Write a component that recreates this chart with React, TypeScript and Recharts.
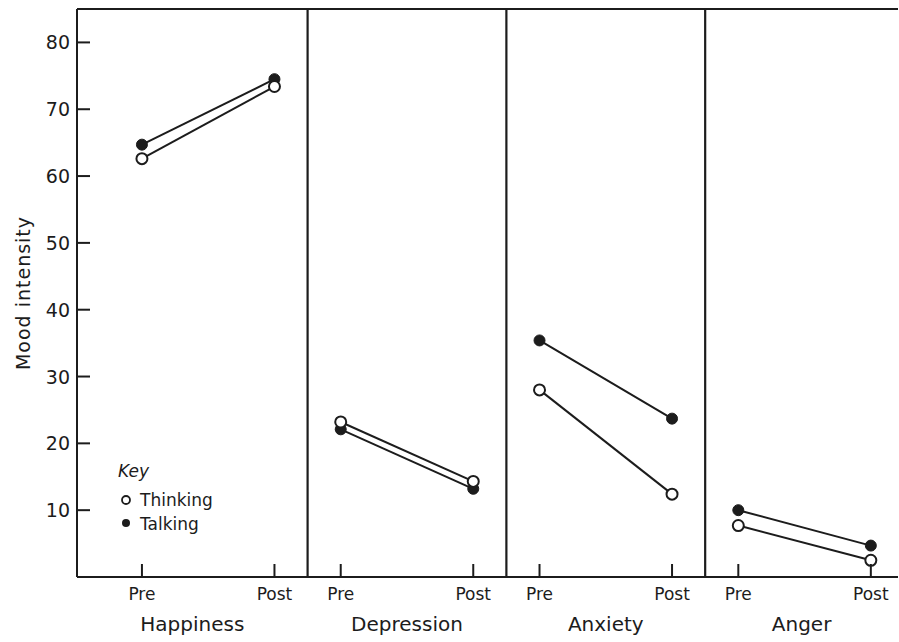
import React from "react";
import { LineChart, Line, XAxis, YAxis, ReferenceLine, Legend } from "recharts";

const panels = ["Happiness", "Depression", "Anxiety", "Anger"];
const phases = ["Pre", "Post"];
const thinkingPre = [62.6, 23.2, 28.0, 7.7];
const thinkingPost = [73.4, 14.3, 12.4, 2.5];
const talkingPre = [64.7, 22.1, 35.4, 10.0];
const talkingPost = [74.5, 13.2, 23.7, 4.7];
const yTicks = [10, 20, 30, 40, 50, 60, 70, 80];

const INK = "#1c1c1c";
const FONT = "'DejaVu Sans', sans-serif";
const X_MIN = -0.98;
const X_MAX = 11.41;
const TICK_LEN = 13;
const Y_GAP = 8;
const X_GAP = 10;

// each panel: Pre at slot 3i, Post at slot 3i+2 on a numeric x axis
const preX = (i: number) => 3 * i;
const postX = (i: number) => 3 * i + 2;
const dividers = panels.slice(1).map((_, i) => postX(i) + 0.5);
const bounds = [X_MIN, ...dividers, X_MAX];
const panelCenters = panels.map((_, i) => (bounds[i] + bounds[i + 1]) / 2);
const phaseTicks = panels.flatMap((_, i) => [preX(i), postX(i)]);

const series = panels.map((name, i) => ({
  name,
  thinking: [
    { x: preX(i), v: thinkingPre[i] },
    { x: postX(i), v: thinkingPost[i] },
  ],
  talking: [
    { x: preX(i), v: talkingPre[i] },
    { x: postX(i), v: talkingPost[i] },
  ],
}));

// tick marks point into the plot, labels sit outside
function YTick(props: any) {
  const { x, y, payload } = props;
  const axisX = x + Y_GAP;
  return (
    <g>
      <line x1={axisX} x2={axisX + TICK_LEN} y1={y} y2={y} stroke={INK} strokeWidth={2} />
      <text x={axisX - 7} y={y} textAnchor="end" dominantBaseline="central" fontSize={19} fill={INK} fontFamily={FONT}>
        {payload.value}
      </text>
    </g>
  );
}

function XTick(props: any) {
  const { x, y, payload } = props;
  const axisY = y - X_GAP;
  return (
    <g>
      <line x1={x} x2={x} y1={axisY} y2={axisY - TICK_LEN} stroke={INK} strokeWidth={2} />
      <text x={x} y={axisY + 23} textAnchor="middle" fontSize={17} fill={INK} fontFamily={FONT}>
        {payload.value % 3 === 0 ? phases[0] : phases[1]}
      </text>
    </g>
  );
}

function OpenDot(props: any) {
  const { cx, cy } = props;
  return <circle cx={cx} cy={cy} r={5.5} fill="#fff" stroke={INK} strokeWidth={2} />;
}

function FilledDot(props: any) {
  const { cx, cy } = props;
  return <circle cx={cx} cy={cy} r={5.5} fill={INK} stroke={INK} strokeWidth={1} />;
}

function KeyBox() {
  return (
    <svg width={120} height={90} style={{ fontFamily: FONT }}>
      <text x={8} y={27} fontSize={17} fontStyle="italic" fill={INK}>Key</text>
      <circle cx={16} cy={50} r={4} fill="#fff" stroke={INK} strokeWidth={1.8} />
      <text x={30} y={56} fontSize={17} fill={INK}>Thinking</text>
      <circle cx={16} cy={73} r={4} fill={INK} />
      <text x={30} y={80} fontSize={17} fill={INK}>Talking</text>
    </svg>
  );
}

export default function App() {
  return (
    <div style={{ position: "absolute", left: 0, top: 0, background: "#fff" }}>
      <LineChart width={899} height={642} margin={{ top: 9, right: 1, left: 0, bottom: 0 }}>
        <XAxis
          dataKey="x"
          type="number"
          domain={[X_MIN, X_MAX]}
          allowDataOverflow
          ticks={phaseTicks}
          interval={0}
          height={40}
          tickSize={0}
          tickMargin={X_GAP}
          axisLine={{ stroke: INK, strokeWidth: 2 }}
          tickLine={false}
          tick={<XTick />}
        />
        <XAxis
          xAxisId="cat"
          dataKey="x"
          type="number"
          domain={[X_MIN, X_MAX]}
          allowDataOverflow
          ticks={panelCenters}
          interval={0}
          tickFormatter={(v: number) => panels[panelCenters.indexOf(v)] ?? ""}
          height={25}
          tickSize={0}
          tickMargin={0}
          axisLine={false}
          tickLine={false}
          tick={{ fontSize: 20, fill: INK, fontFamily: FONT }}
        />
        <YAxis
          type="number"
          domain={[0, 85]}
          allowDataOverflow
          ticks={yTicks}
          interval={0}
          width={77}
          tickSize={0}
          tickMargin={Y_GAP}
          axisLine={{ stroke: INK, strokeWidth: 2 }}
          tickLine={false}
          tick={<YTick />}
          label={{
            content: (p: any) => {
              const vb = p.viewBox;
              const cx = vb.x + 23;
              const cy = vb.y + vb.height / 2;
              return (
                <text
                  x={cx}
                  y={cy}
                  transform={`rotate(-90 ${cx} ${cy})`}
                  textAnchor="middle"
                  dominantBaseline="central"
                  fontSize={19}
                  letterSpacing={1}
                  fill={INK}
                  fontFamily={FONT}
                >
                  Mood intensity
                </text>
              );
            },
          }}
        />
        <ReferenceLine y={85} stroke={INK} strokeWidth={2} />
        {dividers.map((d) => (
          <ReferenceLine key={d} x={d} stroke={INK} strokeWidth={2.2} />
        ))}
        {series.map((s) => (
          <Line
            key={s.name + "-talk"}
            data={s.talking}
            dataKey="v"
            type="linear"
            stroke={INK}
            strokeWidth={2}
            dot={<FilledDot />}
            activeDot={false}
            isAnimationActive={false}
            legendType="none"
          />
        ))}
        {series.map((s) => (
          <Line
            key={s.name + "-think"}
            data={s.thinking}
            dataKey="v"
            type="linear"
            stroke={INK}
            strokeWidth={2}
            dot={<OpenDot />}
            activeDot={false}
            isAnimationActive={false}
            legendType="none"
          />
        ))}
        <Legend
          layout="vertical"
          align="center"
          verticalAlign="middle"
          content={() => <KeyBox />}
          wrapperStyle={{ position: "absolute", left: 110, top: 450, width: 120, height: 90 }}
        />
      </LineChart>
    </div>
  );
}
